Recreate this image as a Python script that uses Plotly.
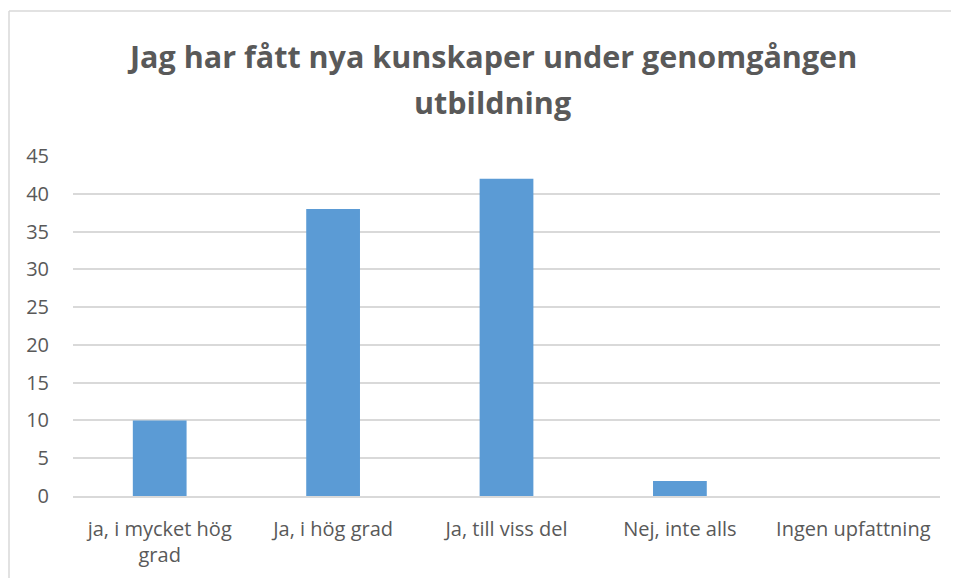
import plotly.graph_objects as go

categories = ["ja, i mycket hög<br>grad", "Ja, i hög grad", "Ja, till viss del", "Nej, inte alls", "Ingen upfattning"]
values = [10, 38, 42, 2, 0]
y_ticks = [0, 5, 10, 15, 20, 25, 30, 35, 40, 45]
title_lines = ["Jag har fått nya kunskaper under genomgången", "utbildning"]

# page has an 8px body margin; positions below are figure coordinates
W, H = 959, 578
ml, mr, mt, mb = 65, 27, 148, 90
pw, ph = W - ml - mr, H - mt - mb


def px_x(x):
    return (x - ml) / pw


def px_y(y):
    return 1 - (y - mt) / ph


fig = go.Figure(go.Bar(
    x=categories, y=values, marker_color="#5B9BD5", width=0.31,
    marker_line_width=0,
))

fig.update_layout(
    width=W, height=H,
    margin=dict(l=ml, r=mr, t=mt, b=mb),
    paper_bgcolor="white", plot_bgcolor="white",
    showlegend=False,
    font=dict(family="Open Sans", color="#595959", size=20),
)
for i, (line, yc) in enumerate(zip(title_lines, [48, 94])):
    fig.add_annotation(
        text="<b>" + line + "</b>", xref="paper", yref="paper",
        x=px_x(484), y=px_y(yc), xanchor="center", yanchor="middle",
        showarrow=False, font=dict(family="Open Sans", size=30.5, color="#595959"),
    )
fig.update_yaxes(
    range=[0, 45], tickvals=y_ticks, showgrid=True, gridcolor="#d9d9d9", gridwidth=1.5,
    zeroline=False, showline=False, ticks="", ticklabelstandoff=23,
    tickfont=dict(size=20, color="#595959"),
)
fig.update_xaxes(
    showgrid=False, showline=True, linecolor="#d9d9d9", linewidth=1.5, ticks="",
    ticklabelstandoff=14, tickfont=dict(size=20, color="#595959"),
)

# chart border (left and top edges visible)
fig.add_shape(type="line", xref="paper", yref="paper", x0=px_x(1), x1=px_x(1), y0=px_y(H + 5), y1=px_y(3),
              line=dict(color="#d9d9d9", width=1.5))
fig.add_shape(type="line", xref="paper", yref="paper", x0=px_x(1), x1=px_x(W + 5), y0=px_y(3), y1=px_y(3),
              line=dict(color="#d9d9d9", width=1.5))

fig.write_html("out.html")
